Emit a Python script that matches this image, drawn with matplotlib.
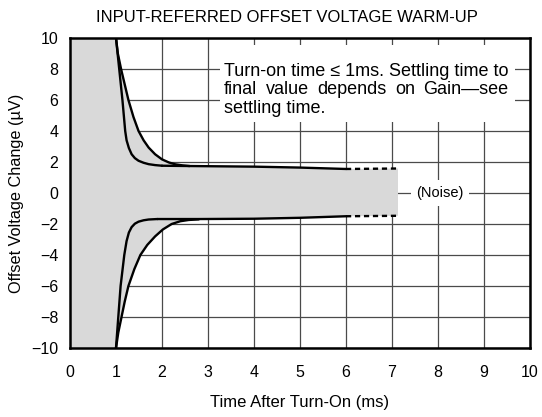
import matplotlib
matplotlib.use("Agg")
import matplotlib.pyplot as plt
from matplotlib.patches import Rectangle

plt.rcParams["font.family"] = ["Liberation Sans", "DejaVu Sans"]
plt.rcParams["font.size"] = 12

TITLE = "INPUT-REFERRED OFFSET VOLTAGE WARM-UP"
X_LABEL = "Time After Turn-On (ms)"
Y_LABEL = "Offset Voltage Change (\u00b5V)"
X_TICKS = list(range(0, 11))
Y_TICKS = list(range(-10, 11, 2))
NOTE_LINES = [
    "Turn-on time \u2264 1ms. Settling time to",
    "final value depends on Gain\u2014see",
    "settling time.",
]
NOISE_LABEL = "(Noise)"

# upper curves (slow / fast settling)
up_slow_t = [1.0, 1.04, 1.11, 1.19, 1.27, 1.38, 1.49, 1.6, 1.71, 1.85, 2.0, 2.15, 2.29, 2.45, 2.6]
up_slow_v = [10, 9.0, 8.0, 7.0, 6.0, 4.9, 4.0, 3.4, 2.93, 2.5, 2.17, 1.97, 1.85, 1.78, 1.74]
up_fast_t = [1.0, 1.07, 1.14, 1.2, 1.23, 1.28, 1.34, 1.41, 1.49, 1.6, 1.71, 1.85, 2.0]
up_fast_v = [10, 8.0, 6.0, 4.0, 3.4, 2.9, 2.5, 2.25, 2.08, 1.95, 1.86, 1.8, 1.76]
up_flat_t = [2.0, 2.6, 4.0, 5.0, 6.0]
up_flat_v = [1.76, 1.74, 1.70, 1.64, 1.55]

# lower curves
lo_fast_t = [1.0, 1.05, 1.1, 1.18, 1.23, 1.28, 1.34, 1.41, 1.49, 1.6, 1.71, 1.9]
lo_fast_v = [-10, -8, -6, -4, -3.1, -2.55, -2.2, -1.98, -1.85, -1.76, -1.71, -1.68]
lo_slow_t = [1.0, 1.05, 1.12, 1.19, 1.27, 1.4, 1.53, 1.68, 1.85, 2.02, 2.21, 2.4, 2.58, 2.8]
lo_slow_v = [-10, -9.0, -8.0, -7.0, -6.0, -4.9, -4.0, -3.35, -2.8, -2.35, -2.0, -1.82, -1.74, -1.7]
lo_flat_t = [1.9, 2.8, 4.0, 5.0, 6.0]
lo_flat_v = [-1.68, -1.68, -1.66, -1.6, -1.5]

# noise band continuation (dashed)
noise_t = [6.0, 7.13]
noise_hi = [1.55, 1.58]
noise_lo = [-1.5, -1.47]

GRAY = "#d9d9d9"

fig = plt.figure(figsize=(5.42, 4.17), dpi=100)
ax = fig.add_axes([70 / 542, 1 - 348 / 417, 460 / 542, 310 / 417])

ax.set_xlim(0, 10)
ax.set_ylim(-10, 10)
ax.set_xticks(X_TICKS)
ax.set_yticks(Y_TICKS)
ax.tick_params(length=0, labelsize=11.5)
ax.tick_params(axis="x", pad=12)
ax.tick_params(axis="y", pad=8.5)
ax.grid(True, color="#4a4a4a", linewidth=0.9)
ax.set_axisbelow(True)
for sp in ax.spines.values():
    sp.set_linewidth(1.8)
    sp.set_zorder(10)

# shaded regions
ax.axvspan(0, 1, color=GRAY, zorder=1, linewidth=0)
band_t = up_slow_t + up_flat_t[1:] + noise_t[1:] + noise_t[::-1][:1] + lo_flat_t[::-1][:-1] + lo_slow_t[::-1]
band_v = up_slow_v + up_flat_v[1:] + noise_hi[1:] + noise_lo[::-1][:1] + lo_flat_v[::-1][:-1] + lo_slow_v[::-1]
ax.fill(band_t, band_v, color=GRAY, zorder=1, linewidth=0)

lw = 1.7
for t, v in [(up_slow_t, up_slow_v), (up_fast_t, up_fast_v), (up_flat_t, up_flat_v),
             (lo_slow_t, lo_slow_v), (lo_fast_t, lo_fast_v), (lo_flat_t, lo_flat_v)]:
    ax.plot(t, v, color="black", linewidth=lw, zorder=5, solid_capstyle="round")
ax.plot(noise_t, noise_hi, color="black", linewidth=lw, linestyle=(0, (2.2, 1.6)), zorder=5)
ax.plot(noise_t, noise_lo, color="black", linewidth=lw, linestyle=(0, (2.2, 1.6)), zorder=5)

# annotation box
ax.add_patch(Rectangle((3.26, 4.58), 6.41, 4.97, facecolor="white", edgecolor="none", zorder=3))
x0, x1 = 3.35, 9.53
line_y = [7.81, 6.65, 5.48]
NOTE_SIZE = 13
ax.text(x0, line_y[0], NOTE_LINES[0], ha="left", va="center", fontsize=NOTE_SIZE, zorder=6)
ax.text(x0, line_y[2], NOTE_LINES[2], ha="left", va="center", fontsize=NOTE_SIZE, zorder=6)

# justified middle line
words = NOTE_LINES[1].split(" ")
fig.canvas.draw()
renderer = fig.canvas.get_renderer()
inv = ax.transData.inverted()
word_texts = [ax.text(0, line_y[1], w, ha="left", va="center", fontsize=NOTE_SIZE, zorder=6) for w in words]
widths = []
for tx in word_texts:
    bb = tx.get_window_extent(renderer)
    widths.append(inv.transform((bb.x1, 0))[0] - inv.transform((bb.x0, 0))[0])
gap = (x1 - x0 - sum(widths)) / (len(words) - 1)
pos = x0
for tx, w in zip(word_texts, widths):
    tx.set_x(pos)
    pos += w + gap

ax.text(8.04, 0, NOISE_LABEL, ha="center", va="center", fontsize=10.5, zorder=6,
        bbox=dict(facecolor="white", edgecolor="none", pad=4))

ax.set_xlabel(X_LABEL, fontsize=12, va="center")
ax.xaxis.set_label_coords(0.5, -(402 - 348) / 310)
ax.set_ylabel(Y_LABEL, fontsize=11.7, va="center")
ax.yaxis.set_label_coords((17 - 70) / 460, 0.5)
fig.text(287 / 542, 1 - 18 / 417, TITLE, ha="center", va="center", fontsize=12)

fig.savefig("out.png", dpi=100)
